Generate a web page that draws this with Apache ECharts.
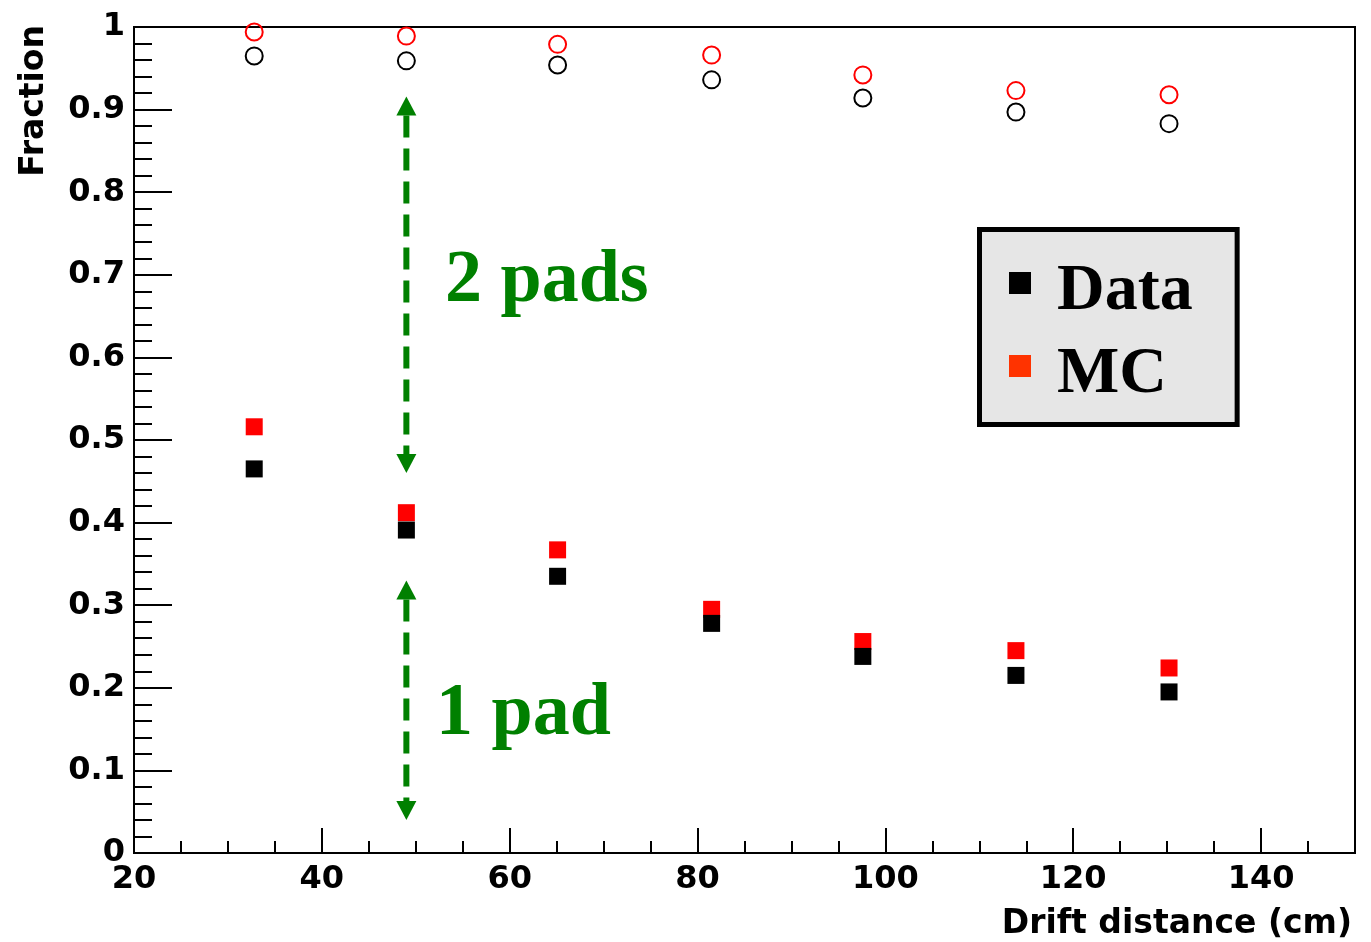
<!DOCTYPE html>
<html>
<head>
<meta charset="utf-8">
<script src="https://cdn.jsdelivr.net/npm/echarts@6/dist/echarts.min.js"></script>
<style>
html,body{margin:0;padding:0;background:#fff;}
#chart{width:1371px;height:942px;}
</style>
</head>
<body>
<div id="chart"></div>
<script>
// Drift distance (cm) of each measurement
const driftDistance = [32.8, 49.0, 65.1, 81.5, 97.6, 113.9, 130.2];
// Fraction of clusters on 1 pad
const data1Pad = [0.465, 0.391, 0.335, 0.278, 0.238, 0.215, 0.195];
const mc1Pad   = [0.516, 0.412, 0.367, 0.295, 0.256, 0.245, 0.224];
// Fraction of clusters on 2 pads (or less)
const data2Pad = [0.965, 0.959, 0.954, 0.936, 0.914, 0.897, 0.883];
const mc2Pad   = [0.994, 0.989, 0.979, 0.966, 0.942, 0.923, 0.918];
// Annotation arrows: x, top fraction, bottom fraction
const arrowX      = [49.0, 49.0];
const arrowTop    = [0.916, 0.330];
const arrowBottom = [0.460, 0.040];
// Axis settings
const xMin = 20, xMax = 150, xStep = 20, xMinorStep = 5;
const yMin = 0, yMax = 1, yStep = 0.1;

const pair = (xs, ys) => xs.map((x, i) => [x, ys[i]]);

const chart = echarts.init(document.getElementById('chart'), null, {renderer: 'canvas'});
const tickFont = {fontFamily: 'DejaVu Sans', fontWeight: 'bold', fontSize: 32, color: '#000'};
const GREEN = '#008000';

const option = {
  animation: false,
  backgroundColor: '#fff',
  grid: {left: 134, right: 16, top: 27, bottom: 89, show: true, borderColor: '#000', borderWidth: 2, backgroundColor: 'transparent'},
  legend: {
    left: 979.5, top: 229.5, orient: 'vertical', selectedMode: false,
    backgroundColor: '#e6e6e6', borderColor: '#000', borderWidth: 5, borderRadius: 0,
    padding: [12, 44.5, 17, 29.5], itemGap: 0, itemWidth: 22, itemHeight: 22,
    formatter: name => '{t|' + name + '}',
    textStyle: {
      fontFamily: 'Liberation Serif', fontWeight: 'bold', fontSize: 66, color: '#000',
      rich: {t: {fontFamily: 'Liberation Serif', fontWeight: 'bold', fontSize: 66, lineHeight: 66, color: '#000', padding: [17, 0, 0, 21]}}
    },
    data: [
      {name: 'Data', icon: 'rect', itemStyle: {color: '#000', borderWidth: 0, opacity: 1}},
      {name: 'MC', icon: 'rect', itemStyle: {color: '#ff3300', borderWidth: 0, opacity: 1}}
    ]
  },
  xAxis: [{
    type: 'value', min: xMin, max: xMax, interval: xStep,
    axisLine: {show: true, onZero: false, lineStyle: {color: '#000', width: 2}},
    axisTick: {show: true, inside: true, length: 25, lineStyle: {color: '#000', width: 2}},
    axisLabel: Object.assign({margin: 11, formatter: v => (v % xStep === 0 ? String(v) : ''), showMaxLabel: false}, tickFont),
    splitLine: {show: false}
  }, {
    type: 'value', min: xMin, max: xMax, interval: xMinorStep, position: 'bottom',
    axisLine: {show: false},
    axisTick: {show: true, inside: true, length: 12, lineStyle: {color: '#000', width: 2}},
    axisLabel: {show: false},
    splitLine: {show: false}
  }],
  yAxis: {
    type: 'value', min: yMin, max: yMax, interval: yStep,
    axisLine: {show: true, onZero: false, lineStyle: {color: '#000', width: 2}},
    axisTick: {show: true, inside: true, length: 38, lineStyle: {color: '#000', width: 2}},
    minorTick: {show: true, splitNumber: 5, length: 18, lineStyle: {color: '#000', width: 2}},
    axisLabel: Object.assign({margin: 9, formatter: v => (v === 0 ? '0' : v === 1 ? '1' : v.toFixed(1))}, tickFont),
    splitLine: {show: false}, minorSplitLine: {show: false}
  },
  graphic: [
    {type: 'text', x: 34, y: 25, rotation: Math.PI / 2, style: {text: 'Fraction', font: 'bold 33px "DejaVu Sans"', fill: '#000', align: 'right', verticalAlign: 'middle'}},
    {type: 'text', x: 1352, y: 924, style: {text: 'Drift distance (cm)', font: 'bold 33px "DejaVu Sans"', fill: '#000', align: 'right', verticalAlign: 'middle'}},
    {type: 'text', x: 445, y: 282, style: {text: '2 pads', font: 'bold 74px "Liberation Serif"', fill: GREEN, align: 'left', verticalAlign: 'middle'}},
    {type: 'text', x: 436, y: 715, style: {text: '1 pad', font: 'bold 74px "Liberation Serif"', fill: GREEN, align: 'left', verticalAlign: 'middle'}}
  ],
  series: [
    {name: 'MC', type: 'scatter', data: pair(driftDistance, mc1Pad), symbol: 'rect', symbolSize: 17,
     itemStyle: {color: '#ff0000', opacity: 1}, silent: true, emphasis: {disabled: true}, z: 3},
    {name: 'MC', type: 'scatter', data: pair(driftDistance, mc2Pad), symbol: 'circle', symbolSize: 17,
     itemStyle: {color: 'rgba(0,0,0,0)', borderColor: '#ff0000', borderWidth: 2, opacity: 1}, silent: true, emphasis: {disabled: true}, z: 3},
    {name: 'Data', type: 'scatter', data: pair(driftDistance, data1Pad), symbol: 'rect', symbolSize: 17,
     itemStyle: {color: '#000', opacity: 1}, silent: true, emphasis: {disabled: true}, z: 4},
    {name: 'Data', type: 'scatter', data: pair(driftDistance, data2Pad), symbol: 'circle', symbolSize: 17,
     itemStyle: {color: 'rgba(0,0,0,0)', borderColor: '#000', borderWidth: 2, opacity: 1}, silent: true, emphasis: {disabled: true}, z: 4},
    {name: 'arrows', type: 'custom', silent: true, clip: false, z: 2,
     data: arrowX.map((x, i) => [x, arrowTop[i], arrowBottom[i]]),
     encode: {x: 0, y: [1, 2]},
     renderItem: function (params, api) {
       const top = api.coord([api.value(0), api.value(1)]);
       const bot = api.coord([api.value(0), api.value(2)]);
       const hl = 19, hw = 10;
       return {type: 'group', children: [
         {type: 'line', shape: {x1: top[0], y1: top[1] + hl, x2: bot[0], y2: bot[1] - hl},
          style: {stroke: GREEN, lineWidth: 6, lineDash: [22, 11]}},
         {type: 'polygon', shape: {points: [[top[0], top[1]], [top[0] - hw, top[1] + hl], [top[0] + hw, top[1] + hl]]}, style: {fill: GREEN}},
         {type: 'polygon', shape: {points: [[bot[0], bot[1]], [bot[0] - hw, bot[1] - hl], [bot[0] + hw, bot[1] - hl]]}, style: {fill: GREEN}}
       ]};
     }}
  ]
};
chart.setOption(option);
</script>
</body>
</html>
